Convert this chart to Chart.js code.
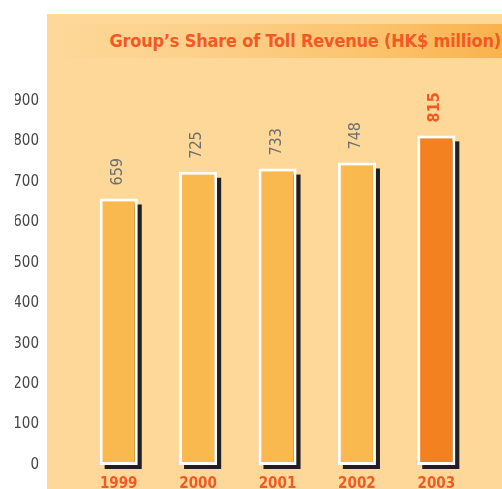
<!doctype html>
<html><head><meta charset="utf-8">
<title>Group's Share of Toll Revenue</title>
<script src="https://cdn.jsdelivr.net/npm/chart.js@4.4.0/dist/chart.umd.min.js"></script>
<style>
  *{box-sizing:border-box}
  html,body{margin:0;background:#fff;width:502px;height:489px;overflow:hidden;position:relative}
  .panel{position:absolute;left:47px;top:14px;width:455px;height:475px;background:#fdd898}
  .band{position:absolute;left:47px;top:24px;width:455px;height:34px;
    background:linear-gradient(to right,#fdd898 0%,#fcd18c 30%,#fbc46f 70%,#f9b24c 100%)}
  .band h1{margin:0;position:absolute;right:1px;top:6px;white-space:nowrap;
    font:bold 18px "DejaVu Sans Condensed",sans-serif;color:#f15a24;letter-spacing:-0.2px}
  .wrap{position:absolute;left:0;top:0;width:502px;height:514px}
</style></head><body>
<div class="panel"></div>
<div class="band"><h1>Group’s Share of Toll Revenue (HK$ million)</h1></div>
<div class="wrap"><canvas id="c" width="502" height="514"></canvas></div>
<script>
// 연도별 통행료 수입 (HK$ million)
const YEARS = ['1999', '2000', '2001', '2002', '2003'];
const REVENUE = [659, 725, 733, 748, 815];
const Y_TICKS = [0, 100, 200, 300, 400, 500, 600, 700, 800, 900];

const BAR = '#f9b94e', HILITE = '#f3811f', ORANGE = '#f15a24', GREY = '#6d6e70';
const FONT = '"DejaVu Sans Condensed",sans-serif';

// 막대 그림자 (오른쪽 아래로 어긋난 검정 사각형)
const shadowPlugin = {
  id: 'shadow',
  beforeDatasetsDraw(chart) {
    const ctx = chart.ctx;
    ctx.save();
    ctx.fillStyle = '#231f20';
    for (const el of chart.getDatasetMeta(0).data) {
      const { x, y, base, width } = el.getProps(['x', 'y', 'base', 'width'], true);
      ctx.fillRect(x - width / 2 + 5, y + 6, width - 1, base - y - 2);
    }
    ctx.restore();
  }
};

// 값 라벨 (세로로 회전)
const labelPlugin = {
  id: 'vlabels',
  afterDatasetsDraw(chart) {
    const ctx = chart.ctx;
    const meta = chart.getDatasetMeta(0);
    ctx.save();
    meta.data.forEach((el, i) => {
      const { x, y } = el.getProps(['x', 'y'], true);
      const last = i === meta.data.length - 1;
      ctx.save();
      ctx.translate(x - 1, y - 13);
      ctx.rotate(-Math.PI / 2);
      ctx.font = (last ? 'bold ' : '') + '16px ' + FONT;
      ctx.fillStyle = last ? ORANGE : GREY;
      ctx.textAlign = 'left';
      ctx.textBaseline = 'middle';
      ctx.fillText(String(REVENUE[i]), 0, 0);
      ctx.restore();
    });
    ctx.restore();
  }
};

new Chart(document.getElementById('c'), {
  type: 'bar',
  data: {
    labels: YEARS,
    datasets: [{
      data: REVENUE,
      backgroundColor: REVENUE.map((_, i) => i === REVENUE.length - 1 ? HILITE : BAR),
      borderColor: '#ffffff',
      borderWidth: 3,
      borderSkipped: false,
      barPercentage: 0.48,
      categoryPercentage: 1
    }]
  },
  options: {
    responsive: false,
    animation: false,
    layout: { padding: { left: 15, right: 26, top: 101, bottom: 0 } },
    plugins: { legend: { display: false }, tooltip: { enabled: false } },
    scales: {
      x: {
        afterFit: s => { s.height = 26; },
        grid: { display: false, drawTicks: false },
        border: { display: false },
        ticks: { color: ORANGE, font: { family: FONT, size: 15, weight: 'bold' }, padding: 10 }
      },
      y: {
        min: 0, max: 900,
        afterFit: s => { s.width = 64; },
        afterBuildTicks: s => { s.ticks = Y_TICKS.map(v => ({ value: v })); },
        grid: { display: false, drawTicks: false },
        border: { display: false },
        ticks: { color: '#444', font: { family: FONT, size: 15 }, padding: 40 }
      }
    }
  },
  plugins: [shadowPlugin, labelPlugin]
});
</script>
</body></html>
